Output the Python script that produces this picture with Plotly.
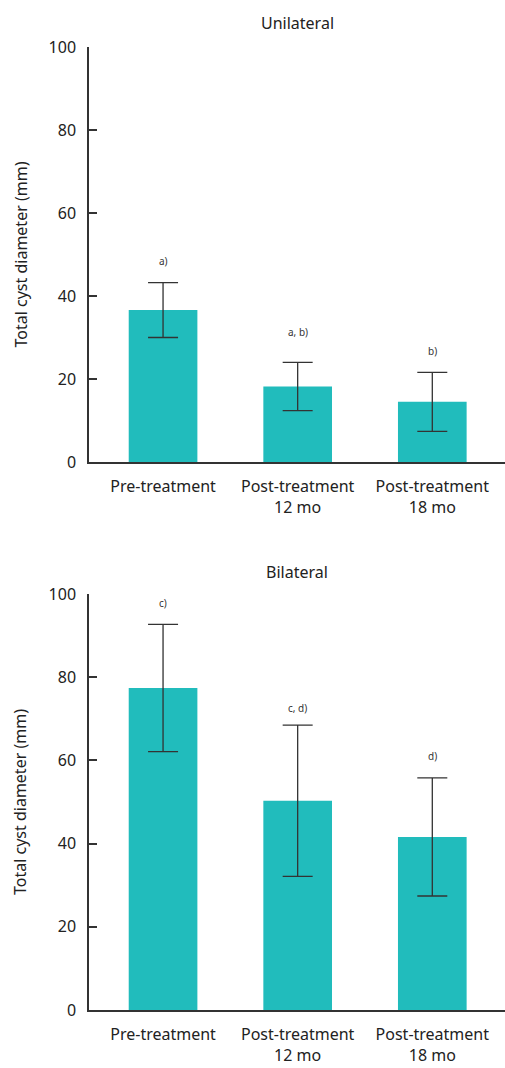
import plotly.graph_objects as go

categories = ["Pre-treatment", "Post-treatment<br>12 mo", "Post-treatment<br>18 mo"]

uni_mean = [36.6, 18.2, 14.5]
uni_sd = [6.6, 5.8, 7.1]
uni_labels = ["a)", "a, b)", "b)"]
uni_label_y = [48.4, 31.3, 26.7]

bi_mean = [77.4, 50.3, 41.6]
bi_sd = [15.3, 18.2, 14.2]
bi_labels = ["c)", "c, d)", "d)"]
bi_label_y = [97.8, 72.6, 61.1]

y_ticks = [0, 20, 40, 60, 80, 100]

BAR = "#21BCBC"
AX = "#333333"
FONT = "Noto Sans"
W, H = 505, 1068

fig = go.Figure()

panels = [
    ("x", "y", uni_mean, uni_sd, uni_labels, uni_label_y),
    ("x2", "y2", bi_mean, bi_sd, bi_labels, bi_label_y),
]
for xa, ya, mean, sd, labs, laby in panels:
    fig.add_trace(go.Bar(
        x=categories, y=mean, xaxis=xa, yaxis=ya,
        marker=dict(color=BAR, line=dict(width=0)),
        error_y=dict(type="data", array=sd, visible=True, color=AX, thickness=1.3, width=15),
        showlegend=False,
    ))
    for c, t, yy in zip(categories, labs, laby):
        fig.add_annotation(x=c, y=yy, xref=xa, yref=ya, text=t, showarrow=False,
                           font=dict(family=FONT, size=10, color=AX))

top_dom = [1 - 462 / H, 1 - 47 / H]
bot_dom = [1 - 1010 / H, 1 - 594 / H]
x_dom = [89 / W, 1.0]

axis_common_x = dict(
    domain=x_dom, range=[-0.55, 2.54], showline=True, linecolor=AX, linewidth=1.5,
    ticks="", showgrid=False, zeroline=False, automargin=False,
    tickfont=dict(family=FONT, size=16, color="#222"), ticklabelstandoff=9,
    fixedrange=True,
)
axis_common_y = dict(
    range=[0, 100], tickvals=y_ticks, showline=True, linecolor=AX, linewidth=1.5,
    ticks="inside", ticklen=8, tickcolor=AX, tickwidth=1.5, showgrid=False, zeroline=False,
    automargin=False,
    tickfont=dict(family=FONT, size=16, color="#222"), ticklabelstandoff=8,
    fixedrange=True,
)

fig.update_layout(
    template="none",
    width=W, height=H, margin=dict(l=0, r=0, t=0, b=0, autoexpand=False),
    plot_bgcolor="white", paper_bgcolor="white", bargap=0.49,
    xaxis=dict(anchor="y", **axis_common_x),
    yaxis=dict(anchor="x", domain=top_dom, **axis_common_y),
    xaxis2=dict(anchor="y2", **axis_common_x),
    yaxis2=dict(anchor="x2", domain=bot_dom, **axis_common_y),
)

for title, ypx in [("Unilateral", 23), ("Bilateral", 572)]:
    fig.add_annotation(x=(89 + 505) / 2 / W, y=1 - ypx / H, xref="paper", yref="paper",
                       text=title, showarrow=False, yanchor="middle",
                       font=dict(family=FONT, size=16, color="#222"))

for ymid in [(47 + 462) / 2, (594 + 1010) / 2]:
    fig.add_annotation(x=20 / W, y=1 - ymid / H, xref="paper", yref="paper",
                       text="Total cyst diameter (mm)", showarrow=False, textangle=-90,
                       xanchor="center", yanchor="middle",
                       font=dict(family=FONT, size=16, color="#222"))

fig.write_html(
    "out.html",
    config={"displayModeBar": False},
    post_script="document.body.style.margin='0';document.body.style.overflow='hidden';",
)
